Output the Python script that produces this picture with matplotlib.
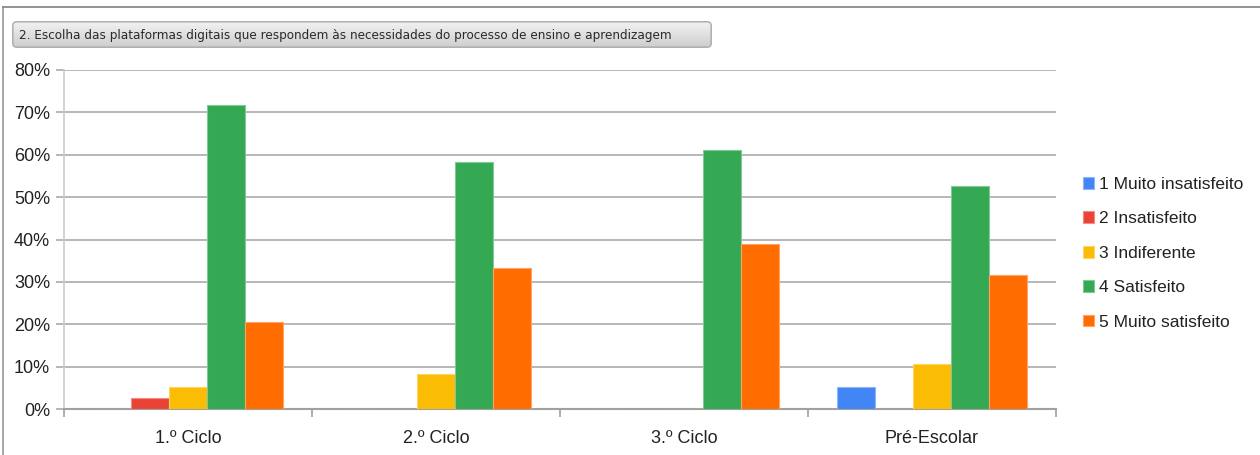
import matplotlib
matplotlib.use("Agg")
import matplotlib.pyplot as plt
import numpy as np
from matplotlib.patches import FancyBboxPatch
from matplotlib.lines import Line2D
from matplotlib.colors import LinearSegmentedColormap
from matplotlib import font_manager

categories = ["1.º Ciclo", "2.º Ciclo", "3.º Ciclo", "Pré-Escolar"]
series_names = ["1 Muito insatisfeito", "2 Insatisfeito", "3 Indiferente",
                "4 Satisfeito", "5 Muito satisfeito"]
muito_insatisfeito = [0.0, 0.0, 0.0, 5.26]
insatisfeito = [2.56, 0.0, 0.0, 0.0]
indiferente = [5.13, 8.33, 0.0, 10.53]
satisfeito = [71.79, 58.33, 61.11, 52.63]
muito_satisfeito = [20.51, 33.33, 38.89, 31.58]
series_values = [muito_insatisfeito, insatisfeito, indiferente, satisfeito, muito_satisfeito]
colors = ["#4285F4", "#EA4335", "#FBBC04", "#34A853", "#FF6D00"]
edges = ["#8fb4f8", "#f28b82", "#fdd663", "#81c995", "#ffa366"]
yticks = [0, 10, 20, 30, 40, 50, 60, 70, 80]
title = "2. Escolha das plataformas digitais que respondem às necessidades do processo de ensino e aprendizagem"

names = {f.name for f in font_manager.fontManager.ttflist}
main_font = "Liberation Sans" if "Liberation Sans" in names else "DejaVu Sans"
narrow_font = "Liberation Sans Narrow" if "Liberation Sans Narrow" in names else "DejaVu Sans"
plt.rcParams['font.family'] = [main_font, 'DejaVu Sans']

W, H = 1260, 455
fig = plt.figure(figsize=(W / 100, H / 100), dpi=100)
fig.patch.set_facecolor("white")

# outer frame (top and left only)
fig.add_artist(Line2D([2.5 / W, 2.5 / W], [0, 1 - 7 / H], transform=fig.transFigure,
                      color="#a0a0a0", linewidth=1.3))
fig.add_artist(Line2D([2.5 / W, 1], [1 - 7 / H, 1 - 7 / H], transform=fig.transFigure,
                      color="#8a8a8a", linewidth=1.3))

# title box with gradient (axes in pixel units)
bx0, by0, bx1, by1 = 12, 21, 712, 48
gax = fig.add_axes([bx0 / W, 1 - by1 / H, (bx1 - bx0) / W, (by1 - by0) / H])
gax.set_xlim(0, bx1 - bx0)
gax.set_ylim(0, by1 - by0)
gax.set_axis_off()
cm = LinearSegmentedColormap.from_list("g", ["#f3f3f3", "#cdcdcd"])
grad = np.linspace(0, 1, 64).reshape(-1, 1)
im = gax.imshow(grad, aspect="auto", cmap=cm, extent=[0, bx1 - bx0, 0, by1 - by0], origin="upper")
box = FancyBboxPatch((0.8, 0.8), bx1 - bx0 - 1.6, by1 - by0 - 1.6,
                     boxstyle="round,pad=0,rounding_size=4",
                     fill=False, edgecolor="#a8a8a8", linewidth=1)
gax.add_patch(box)
im.set_clip_path(box)
tt = fig.text(19 / W, 1 - 35 / H, title, fontsize=11, color="#2a2a2a", va="center", ha="left",
              family=[narrow_font, 'DejaVu Sans'], fontstretch="condensed")
# fit the title width to the box as in the reference
renderer = fig.canvas.get_renderer()
wpx = tt.get_window_extent(renderer).width
tt.set_fontsize(11 * 650 / wpx)

ax = fig.add_axes([64 / W, 1 - 409 / H, (1056 - 64) / W, (409 - 70) / H])
x = np.arange(len(categories))
bw = 0.153
for i, (vals, name) in enumerate(zip(series_values, series_names)):
    ax.bar(x + (i - 2) * bw, vals, width=bw, color=colors[i], edgecolor=edges[i],
           linewidth=0.8, label=name, zorder=3)

ax.set_xlim(-0.5, len(categories) - 0.5)
ax.set_ylim(0, 80)
ax.set_yticks(yticks)
ax.set_yticklabels([f"{v}%" for v in yticks], fontsize=13, color="#222222")
ax.yaxis.grid(True, color="#aaaaaa", linewidth=1.2, zorder=0)
ax.tick_params(axis="y", length=6, color="#aaaaaa", width=1.2, pad=4)
ax.set_xticks(x)
ax.set_xticklabels(categories, fontsize=13, color="#222222")
ax.set_xticks(np.arange(-0.5, len(categories)), minor=True)
ax.tick_params(axis="x", which="major", length=0, pad=15)
ax.tick_params(axis="x", which="minor", length=6, color="#a0a0a0", width=1.2)
for s in ["top", "right"]:
    ax.spines[s].set_visible(False)
ax.spines["left"].set_color("#cccccc")
ax.spines["left"].set_linewidth(1.2)
ax.spines["bottom"].set_color("#a0a0a0")
ax.spines["bottom"].set_linewidth(1.5)
ax.set_axisbelow(True)

handles, labels = ax.get_legend_handles_labels()
leg = fig.legend(handles, labels, loc="upper left", bbox_to_anchor=(1076 / W, 1 - 170 / H),
                 frameon=False, fontsize=12.5, handlelength=0.65, handleheight=0.65,
                 handletextpad=0.3, labelspacing=1.12, borderaxespad=0)
for t in leg.get_texts():
    t.set_color("#222222")

fig.savefig("out.png", dpi=100, facecolor="white")
